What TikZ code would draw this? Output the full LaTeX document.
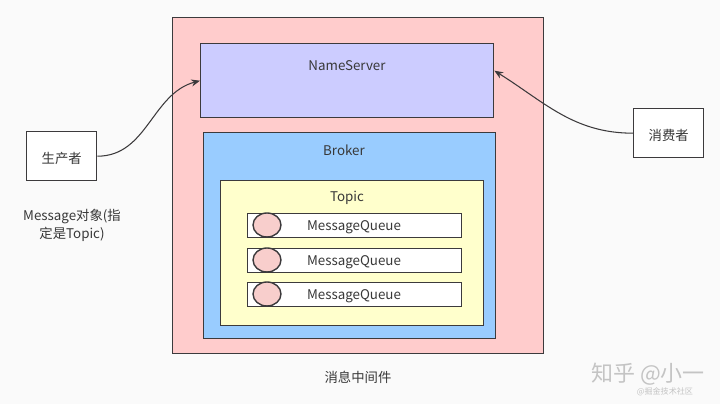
\documentclass[tikz,border=0pt]{standalone}
\usepackage{fontspec}
\setmainfont{Noto Sans CJK SC}
\usetikzlibrary{arrows.meta,shapes.geometric}
\definecolor{bgcol}{HTML}{FAFAFA}
\definecolor{edgecol}{HTML}{3C3A3C}
\definecolor{mwpink}{HTML}{FFCCCC}
\definecolor{nslilac}{HTML}{CCCCFF}
\definecolor{brokerblue}{HTML}{99CCFF}
\definecolor{topicyellow}{HTML}{FFFFCC}
\definecolor{dotpink}{HTML}{F8CECC}
\definecolor{marktext}{HTML}{C4C4C4}

\begin{document}
\begin{tikzpicture}[x=0.02cm,y=-0.02cm,
  box/.style={draw=edgecol,line width=0.8pt,inner sep=0pt,anchor=north west},
  txt/.style={text=black!78,font=\fontsize{7.6}{10}\selectfont,inner sep=0pt,yshift=-0.05cm},
  link/.style={draw=edgecol,line width=0.6pt,-{Stealth[length=5pt,width=4pt]}}]
\fill[bgcol] (0,0) rectangle (720,404);
\useasboundingbox (0,0) rectangle (720,404);

% middleware and its parts
\node[box,fill=mwpink,minimum width=7.42cm,minimum height=6.72cm] (mw) at (172,17) {};
\node[box,fill=nslilac,minimum width=5.86cm,minimum height=1.48cm] (ns) at (200,43) {};
\node[txt] (nslabel) at (347,63) {NameServer};
\node[box,fill=brokerblue,minimum width=5.84cm,minimum height=4.12cm] (broker) at (203,132) {};
\node[txt] (brokerlabel) at (344,148) {Broker};
\node[box,fill=topicyellow,minimum width=5.26cm,minimum height=2.90cm] (topic) at (220,180) {};
\node[txt] (topiclabel) at (347,195) {Topic};

\foreach \y/\n in {213/1,248/2,282/3}{
  \node[box,fill=white,minimum width=4.28cm,minimum height=0.48cm] (mq\n) at (247,\y) {};
  \node[txt] (mqlabel\n) at (354,\y+12) {MessageQueue};
  \node[ellipse,draw=edgecol,line width=0.8pt,fill=dotpink,inner sep=0pt,
        minimum width=0.56cm,minimum height=0.48cm] (dot\n) at (267,\y+12) {};
}
\node[txt] (mwlabel) at (358,375) {消息中间件};

% clients
\node[box,fill=white,minimum width=1.4cm,minimum height=0.98cm] (prod) at (26,131) {};
\node[txt] at (prod.center) {生产者};
\node[box,fill=white,minimum width=1.4cm,minimum height=0.98cm] (cons) at (633,108) {};
\node[txt] at (cons.center) {消费者};
\node[txt,align=center] (msglabel) at (72,223) {Message对象(指\\定是Topic)};

\draw[link] (prod.east) to[out=0,in=195] (ns.west);
\draw[link] (cons.west) to[out=180,in=-32] ([yshift=0.2cm]ns.east);

% watermark
\node[text=marktext,font=\fontsize{12.5}{14}\selectfont,inner sep=0pt] (mark) at (648,374) {知乎 @小一};
\node[text=marktext,font=\fontsize{4.6}{5}\selectfont,inner sep=0pt] (marksub) at (665,392) {@掘金技术社区};
\end{tikzpicture}
\end{document}
